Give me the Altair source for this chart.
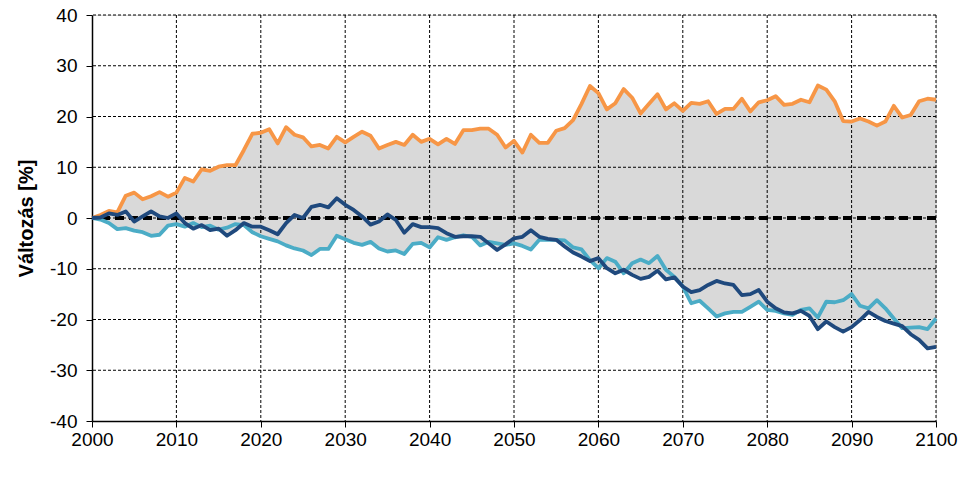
import altair as alt
import pandas as pd

years = list(range(2000, 2101))

orange = [0, 0.6, 1.4, 1.1, 4.4, 5.0, 3.7, 4.3, 5.1, 4.2,
          5.0, 7.9, 7.2, 9.6, 9.3, 10.1, 10.4, 10.4, 13.4, 16.6,
          16.8, 17.5, 14.7, 17.9, 16.4, 15.9, 14.1, 14.4, 13.7, 16.0,
          14.9, 16.0, 17.0, 16.2, 13.7, 14.4, 15.0, 14.4, 16.4, 15.0,
          15.6, 14.5, 15.6, 14.6, 17.3, 17.3, 17.6, 17.6, 16.4, 13.9,
          15.2, 12.9, 16.4, 14.8, 14.8, 17.2, 17.7, 19.3, 22.5, 26.0,
          24.6, 21.4, 22.6, 25.4, 23.7, 20.6, 22.5, 24.4, 21.4, 22.6,
          21.1, 22.7, 22.5, 23.0, 20.5, 21.5, 21.5, 23.5, 21.0, 22.8,
          23.2, 24.0, 22.3, 22.5, 23.3, 22.8, 26.1, 25.3, 23.0, 19.1,
          19.0, 19.6, 19.0, 18.2, 19.0, 22.1, 19.8, 20.3, 23.0, 23.5,
          23.3]

dark = [0, 0.1, 0.9, 0.6, 1.3, -0.7, 0.3, 1.3, 0.3, 0.0,
        0.9, -1.0, -2.1, -1.4, -2.4, -2.1, -3.5, -2.4, -1.0, -1.7,
        -1.7, -2.4, -3.2, -1.0, 0.6, 0.0, 2.2, 2.6, 2.1, 3.9,
        2.6, 1.6, 0.3, -1.3, -0.7, 0.7, -0.4, -2.9, -1.2, -1.8,
        -1.8, -2.0, -3.0, -3.7, -3.6, -3.6, -3.7, -5.0, -6.3, -5.2,
        -4.0, -3.7, -2.4, -3.7, -4.1, -4.3, -5.6, -6.8, -7.6, -8.5,
        -7.9, -9.9, -10.9, -10.2, -11.2, -12.0, -11.6, -10.4, -12.1, -11.7,
        -13.5, -14.6, -14.2, -13.2, -12.4, -12.9, -13.2, -15.2, -15.0, -14.2,
        -16.5, -17.8, -18.6, -18.8, -18.3, -19.3, -21.9, -20.4, -21.5, -22.4,
        -21.5, -20.1, -18.5, -19.5, -20.3, -20.8, -21.3, -22.9, -24.0, -25.7,
        -25.4]

light = [0, -0.3, -1.0, -2.2, -2.0, -2.5, -2.8, -3.5, -3.3, -1.5,
         -1.2, -1.7, -1.0, -1.8, -1.5, -2.3, -1.9, -1.2, -1.4, -2.8,
         -3.6, -4.1, -4.6, -5.4, -6.0, -6.4, -7.3, -6.1, -6.1, -3.5,
         -4.2, -4.9, -5.3, -4.7, -6.0, -6.6, -6.4, -7.1, -5.1, -4.9,
         -5.8, -3.8, -4.3, -3.8, -3.4, -3.7, -5.4, -4.7, -5.0, -5.3,
         -5.0, -5.5, -6.2, -4.3, -4.3, -4.3, -4.4, -5.8, -6.2, -8.3,
         -9.9, -7.9, -8.6, -10.9, -8.9, -8.2, -8.9, -7.5, -10.2, -11.6,
         -13.5, -16.8, -16.3, -17.8, -19.4, -18.8, -18.5, -18.5, -17.5, -16.5,
         -18.1, -18.3, -18.8, -19.1, -18.1, -17.8, -19.6, -16.5, -16.6, -16.2,
         -15.0, -17.3, -17.8, -16.2, -17.8, -19.8, -21.7, -21.6, -21.5, -21.9,
         -19.8]

x_ticks = list(range(2000, 2101, 10))
y_ticks = list(range(-40, 41, 10))

df = pd.DataFrame({"year": years, "orange": orange, "dark": dark, "light": light})
df["low"] = df[["dark", "light"]].min(axis=1)

FONT = "Liberation Sans"

xscale = alt.Scale(domain=[2000, 2100], nice=False, zero=False)
yscale = alt.Scale(domain=[-40, 40], nice=False)

xaxis = alt.Axis(values=x_ticks, labelExpr="'' + datum.value", grid=False, domain=True,
                 domainColor="black", domainWidth=1.5, tickColor="black", tickSize=6,
                 labelPadding=3, labelFlush=False, labelOverlap=False,
                 labelFont=FONT, labelFontSize=19, labelColor="black", title=None)
yaxis = alt.Axis(values=y_ticks, labelExpr="'' + datum.value", grid=False, domain=True,
                 domainColor="black", domainWidth=1.5, tickColor="black", tickSize=6,
                 labelPadding=9, labelFlush=False, labelOverlap=False,
                 labelFont=FONT, labelFontSize=19, labelColor="black",
                 title="Változás [%]", titleFont=FONT, titleFontSize=20,
                 titleFontWeight="bold", titleColor="black", titlePadding=13)

base = alt.Chart(df)

area = base.mark_area(color="#D9D9D9", opacity=1).encode(
    x=alt.X("year:Q", scale=xscale, axis=xaxis),
    y=alt.Y("orange:Q", scale=yscale, axis=yaxis),
    y2="low:Q",
)

vgrid = alt.Chart(pd.DataFrame({"x": x_ticks[1:]})).mark_rule(
    color="black", strokeWidth=1, strokeDash=[3, 2]
).encode(x=alt.X("x:Q", scale=xscale))

hgrid = alt.Chart(pd.DataFrame({"y": y_ticks[1:]})).mark_rule(
    color="black", strokeWidth=1, strokeDash=[3, 2]
).encode(y=alt.Y("y:Q", scale=yscale))

zero = alt.Chart(pd.DataFrame({"y": [0]})).mark_rule(
    color="black", strokeWidth=4, strokeDash=[9, 5]
).encode(y=alt.Y("y:Q", scale=yscale))

def line(col, color):
    return base.mark_line(color=color, strokeWidth=3.8, strokeJoin="round").encode(
        x=alt.X("year:Q", scale=xscale),
        y=alt.Y(f"{col}:Q", scale=yscale),
    )

chart = alt.layer(
    area, vgrid, hgrid, zero,
    line("orange", "#F79646"),
    line("light", "#4BACC6"),
    line("dark", "#1F497D"),
).properties(
    width=844, height=406,
    autosize=alt.AutoSizeParams(type="none"),
    padding={"left": 84, "top": 7, "right": 23, "bottom": 40},
).configure_view(stroke=None).configure(background="white")

chart.save("out.html", embed_options={"renderer": "svg", "actions": False})
